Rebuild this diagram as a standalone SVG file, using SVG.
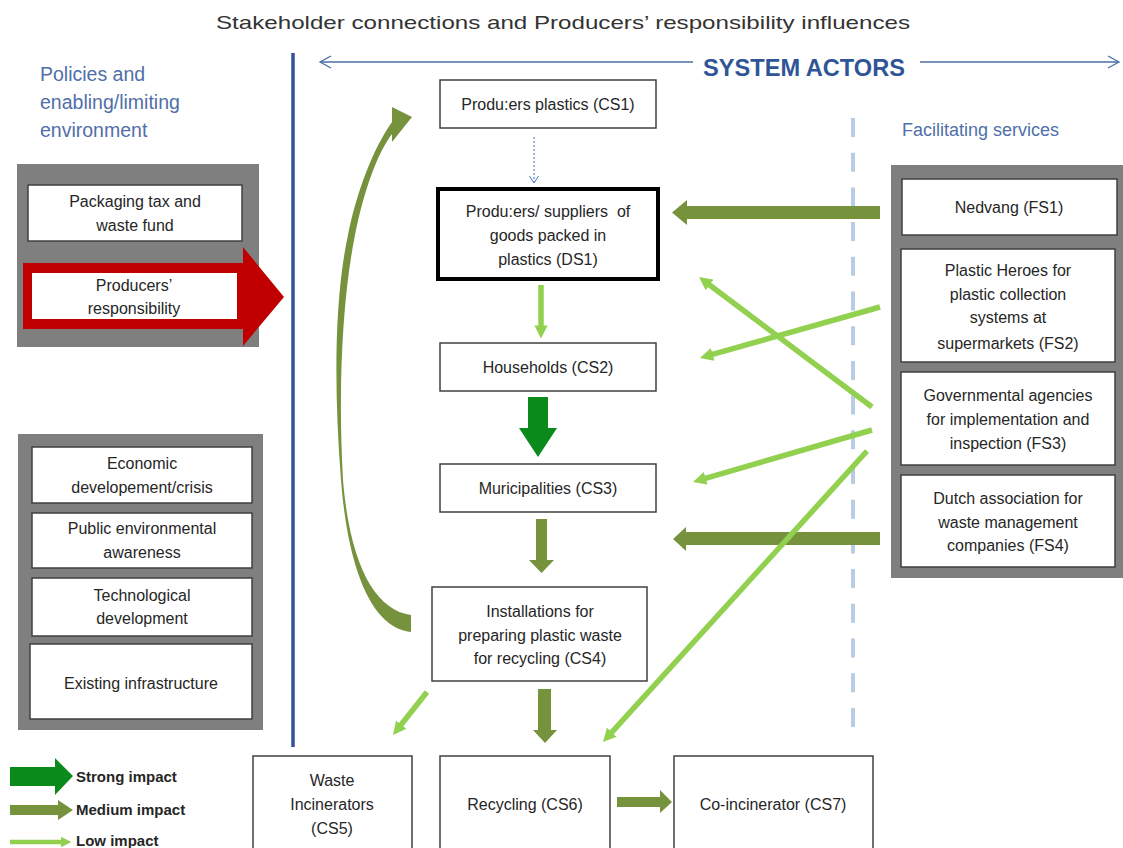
<svg xmlns="http://www.w3.org/2000/svg" width="1123" height="848" viewBox="0 0 1123 848">
<defs>
<style>
text{font-family:"Liberation Sans",Arial,sans-serif;fill:#262626}
.t{font-size:16px;text-anchor:middle}
.box{fill:#fff;stroke:#404040;stroke-width:1.5}
.gray{fill:#7f7f7f}
.head{fill:#4f6fa8;font-size:19.5px}
.low{stroke:#92d050;stroke-width:5.5;fill:none;marker-end:url(#lowHead)}
.med{fill:#76923c}
.strong{fill:#0b8a1c}
.leg{font-size:15px;font-weight:bold}
</style>
<marker id="lowHead" viewBox="0 0 10 10" refX="5" refY="5" markerWidth="2.4" markerHeight="2.4" markerUnits="strokeWidth" orient="auto">
<path d="M0,0 L10,5 L0,10 Z" fill="#92d050"/>
</marker>
</defs>
<rect width="1123" height="848" fill="#fff"/>

<text x="563" y="29" style="font-size:19px;text-anchor:middle;fill:#333" textLength="694" lengthAdjust="spacingAndGlyphs">Stakeholder connections and Producers’ responsibility influences</text>

<g id="frame">
<line x1="293" y1="53" x2="293" y2="747" stroke="#2f5597" stroke-width="3.5"/>
<line x1="853" y1="118" x2="853" y2="730" stroke="#b8cce4" stroke-width="4" stroke-dasharray="19 15.7"/>
<g id="system-actors">
<line x1="320" y1="62" x2="693" y2="62" stroke="#4a6fa5" stroke-width="1.3"/>
<line x1="920" y1="62" x2="1119" y2="62" stroke="#4a6fa5" stroke-width="1.3"/>
<polyline points="331,56 320,62 331,68" fill="none" stroke="#4a6fa5" stroke-width="1.3"/>
<polyline points="1108,56 1119,62 1108,68" fill="none" stroke="#4a6fa5" stroke-width="1.3"/>
<text x="804" y="76" style="font-size:24px;font-weight:bold;fill:#2f5597;text-anchor:middle" textLength="202" lengthAdjust="spacingAndGlyphs">SYSTEM ACTORS</text>
</g>
<text class="head" x="40" y="81">Policies and</text>
<text class="head" x="40" y="109">enabling/limiting</text>
<text class="head" x="40" y="137">environment</text>
<text x="902" y="136" style="font-size:18px;fill:#4f6fa8">Facilitating services</text>
</g>

<g id="policies">
<rect class="gray" x="17" y="164" width="242" height="183"/>
<g id="packaging-tax">
<rect class="box" x="28" y="185" width="214" height="56"/>
<text class="t" x="135" y="207">Packaging tax and</text>
<text class="t" x="135" y="231">waste fund</text>
</g>
<g id="producers-responsibility">
<polygon points="23,263 243,263 243,247 284,297 243,346 243,329 23,329" fill="#c00000"/>
<rect x="32" y="273" width="205" height="46" fill="#fff"/>
<text class="t" x="134" y="291">Producers’</text>
<text class="t" x="134" y="314">responsibility</text>
</g>
</g>

<g id="environment">
<rect class="gray" x="18" y="434" width="245" height="296"/>
<g id="economic">
<rect class="box" x="32" y="447" width="220" height="56"/>
<text class="t" x="142" y="469">Economic</text>
<text class="t" x="142" y="493">developement/crisis</text>
</g>
<g id="public">
<rect class="box" x="32" y="513" width="220" height="55"/>
<text class="t" x="142" y="534">Public environmental</text>
<text class="t" x="142" y="558">awareness</text>
</g>
<g id="technological">
<rect class="box" x="32" y="578" width="220" height="58"/>
<text class="t" x="142" y="601">Technological</text>
<text class="t" x="142" y="624">development</text>
</g>
<g id="infrastructure">
<rect class="box" x="30" y="644" width="222" height="75"/>
<text class="t" x="141" y="689">Existing infrastructure</text>
</g>
</g>

<g id="facilitating">
<rect class="gray" x="891" y="165" width="240" height="413"/>
<g id="FS1">
<rect class="box" x="902" y="179" width="215" height="56"/>
<text class="t" x="1009" y="213">Nedvang (FS1)</text>
</g>
<g id="FS2">
<rect class="box" x="901" y="249" width="214" height="113"/>
<text class="t" x="1008" y="276">Plastic Heroes for</text>
<text class="t" x="1008" y="300">plastic collection</text>
<text class="t" x="1008" y="323">systems at</text>
<text class="t" x="1008" y="349">supermarkets (FS2)</text>
</g>
<g id="FS3">
<rect class="box" x="901" y="372" width="214" height="93"/>
<text class="t" x="1008" y="401">Governmental agencies</text>
<text class="t" x="1008" y="425">for implementation and</text>
<text class="t" x="1008" y="449">inspection (FS3)</text>
</g>
<g id="FS4">
<rect class="box" x="901" y="475" width="214" height="92"/>
<text class="t" x="1008" y="504">Dutch association for</text>
<text class="t" x="1008" y="528">waste management</text>
<text class="t" x="1008" y="551">companies (FS4)</text>
</g>
</g>

<g id="CS1">
<rect class="box" x="440" y="80" width="216" height="48"/>
<text class="t" x="548" y="110">Produ:ers plastics (CS1)</text>
</g>
<g id="DS1">
<rect x="438" y="189" width="220" height="90" fill="#fff" stroke="#000" stroke-width="4"/>
<text class="t" x="548" y="217" style="white-space:pre">Produ:ers/ suppliers  of</text>
<text class="t" x="548" y="241">goods packed in</text>
<text class="t" x="548" y="265">plastics (DS1)</text>
</g>
<g id="CS2">
<rect class="box" x="440" y="343" width="216" height="48"/>
<text class="t" x="548" y="373">Households (CS2)</text>
</g>
<g id="CS3">
<rect class="box" x="440" y="464" width="216" height="48"/>
<text class="t" x="548" y="494">Muricipalities (CS3)</text>
</g>
<g id="CS4">
<rect class="box" x="432" y="587" width="215" height="94"/>
<text class="t" x="540" y="617">Installations for</text>
<text class="t" x="540" y="641">preparing plastic waste</text>
<text class="t" x="540" y="664">for recycling (CS4)</text>
</g>
<g id="CS5">
<rect class="box" x="253" y="756" width="159" height="100"/>
<text class="t" x="332" y="786">Waste</text>
<text class="t" x="332" y="810">Incinerators</text>
<text class="t" x="332" y="834">(CS5)</text>
</g>
<g id="CS6">
<rect class="box" x="440" y="756" width="170" height="100"/>
<text class="t" x="525" y="810">Recycling (CS6)</text>
</g>
<g id="CS7">
<rect class="box" x="674" y="756" width="199" height="100"/>
<text class="t" x="773" y="810">Co-incinerator (CS7)</text>
</g>

<g id="connectors">
<line x1="534" y1="137" x2="534" y2="182" stroke="#4472c4" stroke-width="1" stroke-dasharray="2 2"/>
<polyline points="529.5,176 534,183 538.5,176" fill="none" stroke="#4472c4" stroke-width="1"/>
<path class="med" d="M411,632 C372,628 348,570 341,480 C334,390 334,300 348,235 C356,195 372,150 392,122 L392,107 L412,117 L392,142 L392,134 C378,152 364,190 355,235 C342,300 338,390 343,480 C350,565 375,610 411,615 Z"/>
<line class="low" x1="541" y1="285" x2="541" y2="332"/>
<polygon class="strong" points="528,397 548,397 548,428 557,428 538,457 519,428 528,428"/>
<polygon class="med" points="536,519 547,519 547,560 554,560 541.5,573 529,560 536,560"/>
<polygon class="med" points="538,689 551,689 551,730 557,730 545,743 533,730 538,730"/>
<polygon class="med" points="880,206 687,206 687,200 672,212.5 687,225 687,219 880,219"/>
<polygon class="med" points="880,532 686,532 686,527 673,539 686,551 686,545 880,545"/>
<polygon class="med" points="617,797 660,797 660,790 672,802 660,813 660,807 617,807"/>
<line class="low" x1="872" y1="407" x2="704.3" y2="281"/>
<line class="low" x1="880" y1="307" x2="706.3" y2="356.2"/>
<line class="low" x1="872" y1="430" x2="699.3" y2="480.2"/>
<line class="low" x1="867" y1="451" x2="607.4" y2="737.1"/>
<line class="low" x1="427" y1="692" x2="397.1" y2="729.8"/>
</g>

<g id="legend">
<polygon class="strong" points="10,767 55,767 55,758 73,776 55,795 55,786 10,786"/>
<text class="leg" x="76" y="782">Strong impact</text>
<polygon class="med" points="10,805 58,805 58,800 73,810 58,820 58,815 10,815"/>
<text class="leg" x="76" y="815">Medium impact</text>
<line class="low" x1="10" y1="842" x2="66" y2="842" style="stroke-width:4.5"/>
<text class="leg" x="76" y="846">Low impact</text>
</g>
</svg>
